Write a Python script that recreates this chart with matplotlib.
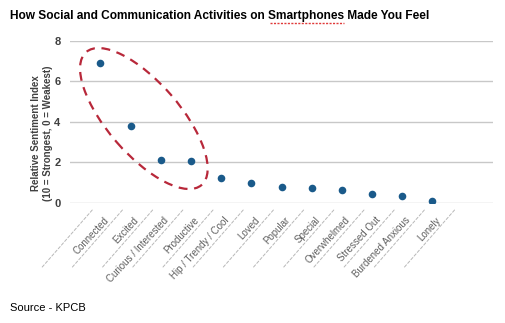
import matplotlib
matplotlib.use("Agg")
import matplotlib.pyplot as plt
from matplotlib.patches import Ellipse
from matplotlib.transforms import ScaledTranslation, offset_copy

plt.rcParams['font.family'] = ['Liberation Sans', 'DejaVu Sans']

feelings = ['Connected', 'Excited', 'Curious / Interested', 'Productive',
            'Hip / Trendy / Cool', 'Loved', 'Popular', 'Special',
            'Overwhelmed', 'Stressed Out', 'Burdened Anxious', 'Lonely']
sentiment = [6.9, 3.8, 2.1, 2.05, 1.2, 0.95, 0.78, 0.73, 0.6, 0.42, 0.34, 0.1]
y_ticks = [0, 2, 4, 6, 8]

title_pre = 'How Social and Communication Activities on '
title_word = 'Smartphones'
title_post = ' Made You Feel'

fig = plt.figure(figsize=(5.05, 3.23), dpi=100)
ax = fig.add_axes([0.139, 0.373, 0.837, 0.5])

x = list(range(len(feelings)))
ax.scatter(x, sentiment, s=30, color='#1a5a8a', zorder=3, linewidths=0)

ax.set_xlim(-1, 13)
ax.set_ylim(0, 8)
ax.set_yticks(y_ticks)
ax.set_yticklabels([str(t) for t in y_ticks], fontsize=8, fontweight='bold',
                   color='#404040')
ax.yaxis.grid(True, color='#c8c8c8', linewidth=1)
ax.set_axisbelow(True)
for s in ax.spines.values():
    s.set_visible(False)
ax.tick_params(axis='y', length=0, pad=7)
ax.set_xticks([])

base = ax.get_xaxis_transform()

# category labels, rotated like the original
for i, name in enumerate(feelings):
    tr = offset_copy(base, fig=fig, x=2, y=-9, units='points')
    ax.text(i, 0, name, transform=tr, rotation=47, rotation_mode='anchor',
            ha='right', va='top', fontsize=7, color='#606060')

# dashed separators between labels
top_tr = offset_copy(base, fig=fig, x=0, y=-7.5, units='dots')
for k in range(len(feelings) + 1):
    ax.annotate('', xy=(k - 0.27, 0), xycoords=top_tr,
                xytext=(-50, -57), textcoords='offset pixels',
                annotation_clip=False,
                arrowprops=dict(arrowstyle='-', color='#b8b8b8', lw=0.7,
                                linestyle=(0, (3, 2)), shrinkA=0, shrinkB=0))

# highlight ellipse around the top four feelings
ell = Ellipse((0, 0), 1.76, 0.72, angle=-49, fill=False, edgecolor='#b8283a',
              linewidth=1.6, linestyle=(0, (4, 3)), zorder=4,
              transform=fig.dpi_scale_trans + ScaledTranslation(1.44, 4.16, ax.transData))
ax.add_patch(ell)

# title, with the red spell-check underline under one word
t = fig.text(0.02, 0.95, title_pre + title_word + title_post,
             fontsize=8.6, fontweight='bold', color='black', va='center', ha='left')
r = fig.canvas.get_renderer()
full = t.get_window_extent(r)
pre = fig.text(0, 0, title_pre, fontsize=8.6, fontweight='bold', alpha=0)
word = fig.text(0, 0, title_pre + title_word, fontsize=8.6, fontweight='bold', alpha=0)
x0 = full.x0 + pre.get_window_extent(r).width + 2
x1 = full.x0 + word.get_window_extent(r).width
fig.lines.append(plt.Line2D([x0, x1], [full.y0 - 1, full.y0 - 1], transform=None,
                            color='#e03a3a', lw=1.0, linestyle=(0, (1.5, 1))))

fig.text(0.083, 0.588, 'Relative Sentiment Index\n(10 = Strongest, 0 = Weakest)',
         rotation=90, fontsize=7, fontweight='bold', color='#404040',
         ha='center', va='center', linespacing=1.15)
fig.text(0.02, 0.047, 'Source - KPCB', fontsize=8, color='black', va='center')

fig.savefig('out.png', dpi=100)
